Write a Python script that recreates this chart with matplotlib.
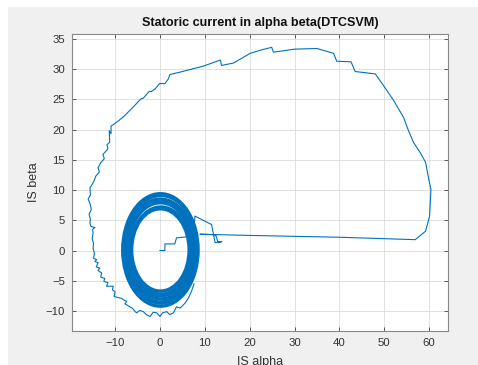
import matplotlib
matplotlib.use("Agg")
import matplotlib.pyplot as plt
from matplotlib.patches import Ellipse, Rectangle

# start-up transient: steps out of the origin, then the long jump to the right
start_x = [0, 1.1, 1.1, 3.3, 3.7, 6.5, 7.6, 7.8, 11.5, 12.3, 13.8, 13.0, 12.4, 8.9, 20.0, 40.0, 56.9]
start_y = [0, 0, 1.1, 1.1, 2.1, 2.3, 4.0, 5.7, 4.3, 1.3, 1.5, 1.3, 2.6, 2.7, 2.5, 2.2, 1.8]

# big excursion: right side upward, top leftward
loop_x = [59.2, 60.1, 60.4, 59.9, 59.2, 58.0, 56.5, 55.4, 54.3, 52.1, 49.8, 48.0,
          43.5, 43.1, 42.6, 39.4, 38.7, 35.0, 30.1, 25.3, 24.9, 22.3, 20.1, 16.4,
          13.7, 13.5, 9.7, 4.5, 2.2, 1.9, 1.1, -0.1, -1.1, -1.9, -2.4, -3.7, -4.2,
          -6.0, -8.0, -9.5, -10.4, -10.9]
loop_y = [3.2, 5.7, 10.1, 11.8, 14.6, 16.2, 17.9, 19.8, 22.0, 24.8, 27.3, 29.2,
          29.6, 30.3, 31.2, 31.3, 32.6, 33.4, 33.3, 32.8, 33.6, 33.1, 32.6, 31.0,
          30.6, 31.5, 30.5, 29.5, 29.1, 28.4, 27.6, 27.6, 26.7, 26.3, 26.3, 25.2, 25.1,
          23.7, 22.2, 21.3, 20.8, 20.6]

# jagged left side and bottom back into the steady-state ring
side_x = [-10.9, -11.3, -11.2, -11.8, -11.6, -12.7, -12.4, -13.2, -13.8, -13.5, -14.3,
          -14.7, -15.3, -15.6, -15.5, -16.0, -15.6, -15.3, -15.8, -15.5, -15.6, -15.4,
          -14.5, -15.0, -14.9, -15.1, -14.8, -14.9, -14.6, -14.8, -14.1, -14.5, -13.8,
          -14.2, -13.4, -13.8, -13.0, -13.2, -12.3, -12.5, -11.6, -11.9, -10.4, -10.6,
          -10.0, -10.2, -8.6, -8.0, -7.4, -7.8, -6.7, -6.2, -5.5, -5.2, -4.5, -3.7,
          -3.0, -2.2, -1.5, -0.7, 0.0, 0.6, 1.5, 2.2, 3.0, 3.7, 4.5, 5.6, 6.3, 7.0, 7.6]
side_y = [19.3, 19.8, 17.9, 17.5, 16.8, 15.9, 15.2, 14.5, 13.7, 13.0, 12.3,
          11.5, 10.7, 10.4, 9.2, 8.5, 7.8, 6.8, 6.0, 5.2, 4.6, 4.0,
          3.8, 3.5, 2.9, 2.0, 1.2, 0.4, -0.5, -1.3, -1.5, -1.8, -2.0,
          -2.7, -2.9, -3.3, -3.7, -4.4, -4.6, -5.1, -5.3, -5.9, -5.9, -6.5,
          -6.8, -7.6, -7.9, -8.2, -8.4, -8.8, -9.3, -9.5, -10.1, -10.3, -9.9, -10.1,
          -10.6, -10.9, -10.2, -10.3, -10.9, -10.3, -10.1, -10.6, -10.3, -9.3, -9.5, -8.7,
          -7.9, -6.8, -5.5]

# steady-state ring, drawn as a band of loops (half-axes)
ring_cx = [0.1, 0.2, 0.1, 0.2, 0.1, 0.2, 0.1]
ring_cy = [0.1, 0.0, 0.2, 0.1, 0.0, 0.2, 0.1]
ring_rx = [6.4, 6.8, 7.2, 7.5, 7.8, 8.1, 8.4]
ring_ry = [6.8, 7.2, 7.7, 8.1, 8.5, 8.9, 9.3]

blue = "#0072BD"

plt.rcParams["font.family"] = ["Liberation Sans", "DejaVu Sans"]

fig = plt.figure(figsize=(4.78, 3.65), dpi=100, facecolor="white")
fig.patches.append(Rectangle((8 / 478, 0), 1, 1 - 7 / 365, transform=fig.transFigure,
                             facecolor="#F0F0F0", edgecolor="none", zorder=-10))
ax = fig.add_axes([72 / 478, 34 / 365, 376 / 478, 297 / 365])

path_x = start_x + loop_x + side_x
path_y = start_y + loop_y + side_y
ax.plot(path_x, path_y, color=blue, linewidth=0.8)

for cx, cy, rx, ry in zip(ring_cx, ring_cy, ring_rx, ring_ry):
    ax.add_patch(Ellipse((cx, cy), 2 * rx, 2 * ry, fill=False, edgecolor=blue, linewidth=2.4))

ax.set_xlim(-19.6, 64.2)
ax.set_ylim(-13.3, 35.8)
ax.set_xticks(range(-10, 61, 10))
ax.set_yticks(range(-10, 36, 5))
ax.grid(True, color="#dcdcdc", linewidth=0.6)
ax.set_axisbelow(True)
ax.tick_params(direction="in", length=3, width=0.6, color="#444444", labelcolor="#333333",
               labelsize=8.2, top=True, right=True, pad=5)
for s in ax.spines.values():
    s.set_color("#888888")
    s.set_linewidth(0.8)

ax.set_title("Statoric current in alpha beta(DTCSVM)", fontsize=9.1, fontweight="bold",
             color="#111111", pad=6)
ax.set_xlabel("IS alpha", fontsize=9, color="#333333", labelpad=6)
ax.set_ylabel("IS beta", fontsize=9, color="#333333", labelpad=4)

fig.savefig("out.png", dpi=100, facecolor=fig.get_facecolor())
